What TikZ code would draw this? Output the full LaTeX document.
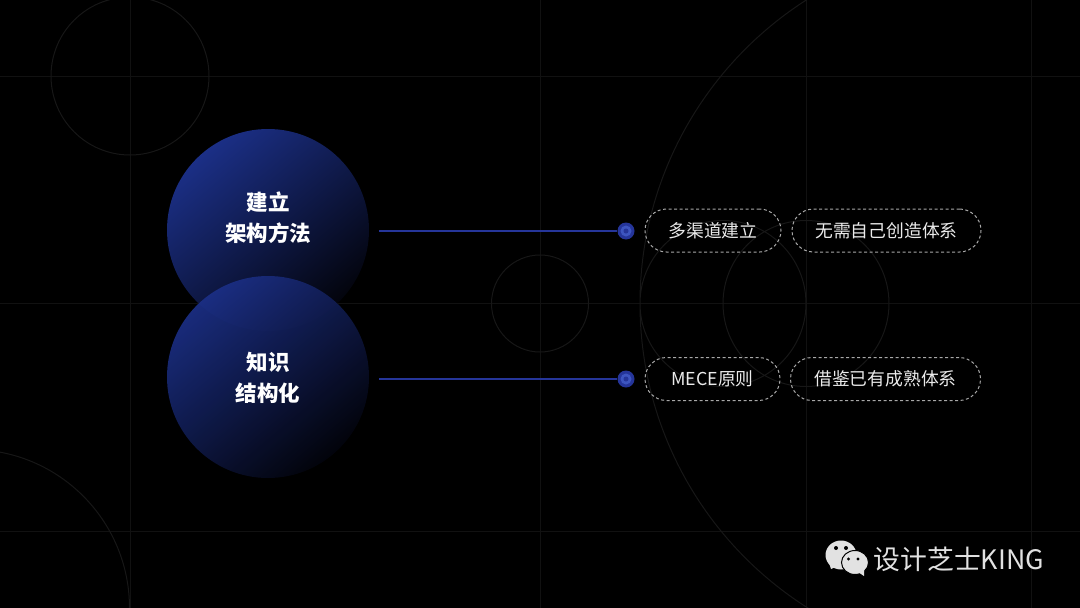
\documentclass[tikz,border=0pt]{standalone}
\usepackage{fontspec}
\setmainfont{Noto Sans CJK SC}
\usepackage{tikz}
\usetikzlibrary{calc}
\definecolor{ballblue}{HTML}{1B2F86}
\definecolor{ballend}{HTML}{03040C}
\definecolor{linkblue}{HTML}{25359A}
\definecolor{dotring}{HTML}{3D55C0}
\definecolor{gridgray}{HTML}{111111}
\definecolor{ringgray}{HTML}{171717}
\definecolor{dashgray}{HTML}{A8A8A8}
\definecolor{logogray}{HTML}{E2E2E2}
\tikzset{
	bggrid/.style={draw=gridgray,line width=1pt},
	bgring/.style={draw=ringgray,line width=1pt},
	ball/.style={circle,minimum size=202pt,inner sep=0pt,shading=axis,top color=ballblue,bottom color=ballend,shading angle=40},
	balltext/.style={text=white,align=center,inner sep=0pt,font=\fontsize{21.5}{31}\selectfont\bfseries},
	pill/.style={rounded corners=21.5pt,draw=dashgray,dash pattern=on 3pt off 2.5pt,line width=1pt,minimum height=43pt,inner sep=0pt,
		text=white!92!black,font=\fontsize{17.8}{20}\selectfont},
	link/.style={draw=linkblue,line width=1.5pt},
	linkdot/.style={circle,fill=linkblue,minimum size=17pt,inner sep=0pt},
}
\begin{document}
\begin{tikzpicture}[x=1pt,y=-1pt]
	\def\rowa{231};
	\def\rowb{379};
	\def\xball{268};
	\def\xdot{626};
	\useasboundingbox (0,0) rectangle (1080,608);
	\clip (0,0) rectangle (1080,608);
	\fill[black] (0,0) rectangle (1080,608);
	%background grid
	\draw[bggrid] (0,76) -- (1080,76) (0,303.5) -- (1080,303.5) (0,531) -- (1080,531);
	\draw[bggrid] (130,0) -- (130,608) (540.5,0) -- (540.5,608) (806,0) -- (806,608) (1031,0) -- (1031,608);
	\draw[bgring] (130,76) circle (79) (540,303.5) circle (48.5)
	              (723,303.5) circle (83) (806,303.5) circle (83)
	              (1000,303.5) circle (360) (-29,608) circle (158.5);
	%balls
	\node[ball] (build) at (\xball,230) {};
	\node[ball,opacity=.93] (know) at (\xball,377) {};
	\node[balltext] (buildtext) at (\xball,217.5) {建立\\架构方法};
	\node[balltext] (knowtext) at (\xball,378) {知识\\结构化};
	%links
	\coordinate (builda) at (379,\rowa);
	\coordinate (knowa) at (379,\rowb);
	\node[linkdot] (dota) at (\xdot,\rowa) {};
	\node[linkdot] (dotb) at (\xdot,\rowb) {};
	\draw[link] (builda) -- (dota);
	\draw[link] (knowa) -- (dotb);
	\fill[dotring] (dota) circle (5.5) (dotb) circle (5.5);
	\fill[linkblue] (dota) circle (2.5) (dotb) circle (2.5);
	%pills
	\node[pill,minimum width=136pt] (many) at (713,230.5) {多渠道建立};
	\node[pill,minimum width=189pt] (free) at (886.5,230.5) {无需自己创造体系};
	\node[pill,minimum width=135pt] (mece) at (712.5,379) {MECE原则};
	\node[pill,minimum width=190pt] (learn) at (885.5,379) {借鉴已有成熟体系};
	%logo
	\fill[logogray] (841,555) ellipse (15.5 and 14.5);
	\fill[logogray] (829,563) -- (831,569) -- (838,566) -- cycle;
	\draw[fill=logogray,draw=black,line width=1pt] (855,562.5) ellipse (13.5 and 12);
	\fill[logogray] (858,572) -- (864,576) -- (864,569) -- cycle;
	\fill[black] (836,548) circle (2) (846,548) circle (2) (848.5,559) circle (1.6) (858,559) circle (1.6);
	\node[text=logogray,anchor=west,inner sep=0pt,font=\fontsize{26.8}{30}\selectfont] (brand) at (873.5,559) {设计芝士KING};
\end{tikzpicture}
\end{document}
